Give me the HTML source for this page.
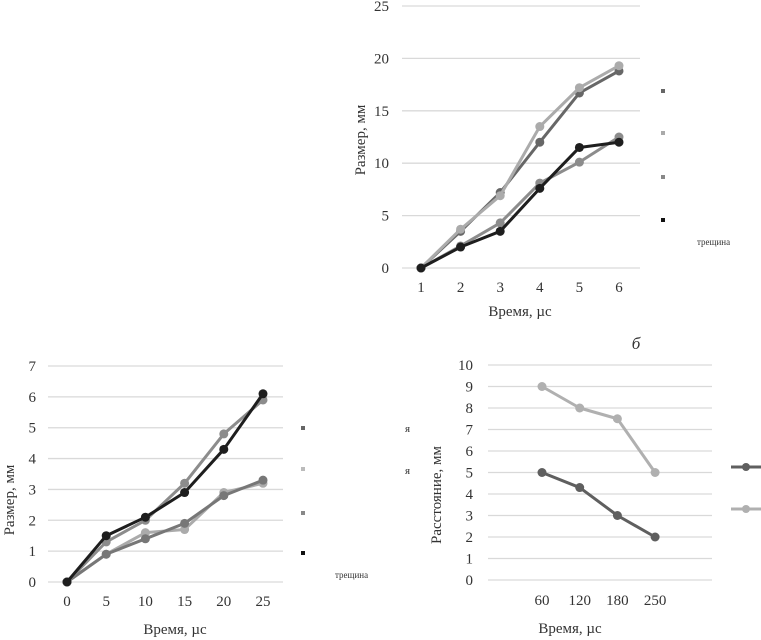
<!DOCTYPE html>
<html><head><meta charset="utf-8"><style>
body{margin:0;background:#fff;width:761px;height:640px;overflow:hidden}
svg{display:block;font-family:"Liberation Serif",serif}
text{fill:#333}
</style></head><body>
<svg id="s" width="761" height="640">
<text x="636" y="349" font-size="17" font-style="italic" text-anchor="middle">б</text>
<text x="697" y="245" font-size="9" fill="#555">трещина</text>
<text x="335" y="578" font-size="9" fill="#555">трещина</text>
<text x="405" y="432" font-size="11">я</text>
<text x="405" y="474" font-size="11">я</text>
</svg>
<script>
// Top chart data
const topCats=["1","2","3","4","5","6"];
const topA=[0,3.5,7.2,12,16.7,18.8];
const topB=[0,3.7,6.9,13.5,17.2,19.3];
const topC=[0,2.1,4.3,8.1,10.1,12.5];
const topD=[0,2,3.5,7.6,11.5,12];
const topTicks=[0,5,10,15,20,25];
// Bottom-left data
const blCats=["0","5","10","15","20","25"];
const blA=[0,0.9,1.4,1.9,2.8,3.3];
const blB=[0,0.9,1.6,1.7,2.9,3.2];
const blC=[0,1.3,2.0,3.2,4.8,5.9];
const blD=[0,1.5,2.1,2.9,4.3,6.1];
const blTicks=[0,1,2,3,4,5,6,7];
// Bottom-right data
const brCats=["60","120","180","250"];
const brA=[5,4.3,3,2];
const brB=[9,8,7.5,5];
const brTicks=[0,1,2,3,4,5,6,7,8,9,10];

const NS="http://www.w3.org/2000/svg";
const svg=document.getElementById('s');
function mk(t,a,txt){const e=document.createElementNS(NS,t);for(const k in a)e.setAttribute(k,a[k]);if(txt!==undefined)e.textContent=txt;svg.appendChild(e);return e;}

function chart(c){
  const y=v=>c.y0-(v-c.ticks[0])/(c.ticks[c.ticks.length-1]-c.ticks[0])*(c.y0-c.y1);
  const x=i=>c.x0+i*c.dx;
  c.ticks.forEach(t=>{
    const g=mk('line',{x1:c.gx0,x2:c.gx1,y1:y(t),y2:y(t),stroke:'#d9d9d9','stroke-width':1.3});
    
    
    const l=mk('text',{x:c.lx,y:y(t)+5,'font-size':15,'text-anchor':'end'},t);
    
    
  });
  c.cats.forEach((k,i)=>{
    const l=mk('text',{x:x(i),y:c.ty,'font-size':15,'text-anchor':'middle'},k);
    
    
  });
  const xt=mk('text',{x:c.xtx,y:c.xty,'font-size':15,'text-anchor':'middle'},'Время, µс');
  
  
  const yt=mk('text',{x:0,y:0,'font-size':15,'text-anchor':'middle',transform:`translate(${c.ytx},${c.yty}) rotate(-90)`},c.ytitle);
  
  
  c.series.forEach((s,si)=>{
    const p=mk('polyline',{points:s.v.map((v,i)=>x(i)+','+y(v)).join(' '),fill:'none',stroke:s.col,'stroke-width':3,'stroke-linejoin':'round'});
    
    
    s.v.forEach((v,i)=>{
      const d=mk('circle',{cx:x(i),cy:y(v),r:4.5,fill:s.col});
      
      
    });
  });
}
chart({cats:topCats,ticks:topTicks,y0:268,y1:6,x0:421,dx:39.6,gx0:402,gx1:640,lx:389,ty:292,xtx:520,xty:316,ytx:365,yty:140,ytitle:'Размер, мм',
  series:[{v:topC,col:'#8c8c8c'},{v:topA,col:'#676767'},{v:topB,col:'#ababab'},{v:topD,col:'#1e1e1e'}]});
chart({cats:blCats,ticks:blTicks,y0:582,y1:366,x0:67,dx:39.2,gx0:48,gx1:283,lx:36,ty:606,xtx:175,xty:634,ytx:14,yty:500,ytitle:'Размер, мм',
  series:[{v:blB,col:'#ababab'},{v:blA,col:'#777'},{v:blC,col:'#8c8c8c'},{v:blD,col:'#1e1e1e'}]});
chart({cats:brCats,ticks:brTicks,y0:580,y1:365,x0:542,dx:37.7,gx0:488,gx1:712,lx:473,ty:605,xtx:570,xty:633,ytx:441,yty:495,ytitle:'Расстояние, мм',
  series:[{v:brA,col:'#5f5f5f'},{v:brB,col:'#b0b0b0'}]});

// legend markers
[[663,91,'#666'],[663,133,'#aaa'],[663,177,'#888'],[663,220,'#111'],[303,428,'#666'],[303,469,'#bbb'],[303,513,'#888'],[303,553,'#111']].forEach(m=>{
  const r=mk('rect',{x:m[0]-2,y:m[1]-2,width:4,height:4,fill:m[2]});
  
  
});
[[467,'#5f5f5f'],[509,'#b0b0b0']].forEach(m=>{
  const l=mk('line',{x1:731,x2:761,y1:m[0],y2:m[0],stroke:m[1],'stroke-width':3});
  
  
  const c=mk('circle',{cx:746,cy:m[0],r:4,fill:m[1]});
  
  
});
</script>
</body></html>
